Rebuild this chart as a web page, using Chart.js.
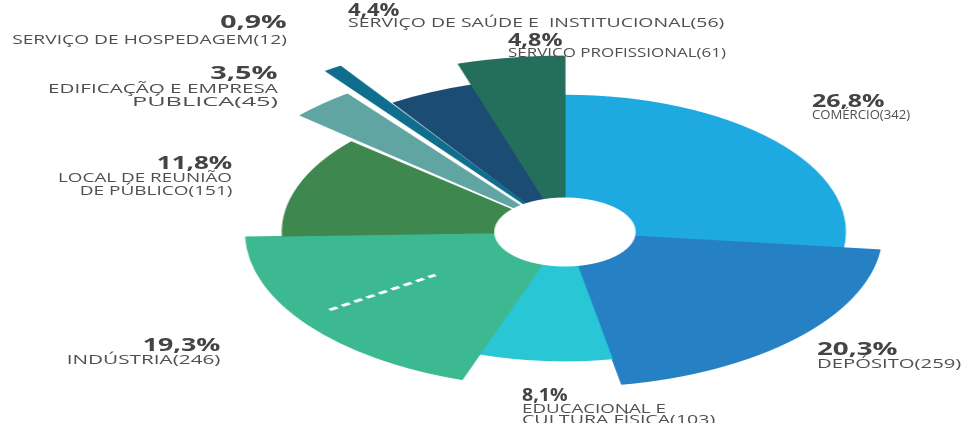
<!DOCTYPE html>
<html>
<head>
<meta charset="utf-8">
<script src="https://cdn.jsdelivr.net/npm/chart.js@4.4.1/dist/chart.umd.min.js"></script>
<style>
  html, body { margin: 0; padding: 0; background: #fff; }
  #stage { position: relative; width: 962px; height: 423px; overflow: hidden; font-family: "Open Sans", sans-serif; }
  /* the source picture is stretched sideways, so the round pie is drawn narrow and widened */
  #pieBox { position: absolute; left: 0; top: 0; width: 470px; height: 423px; transform: scaleX(2.0468); transform-origin: 0 0; }
  .ln { position: absolute; white-space: pre; line-height: 1; }
  .pct { font-size: 17px; font-weight: 700; color: #444; }
  .nm { font-size: 13px; font-weight: 500; color: #505050; }
</style>
</head>
<body>
<div id="stage">
  <div id="pieBox"><canvas id="pie"></canvas></div>
</div>
<script>
// ---- data (clockwise from 12 o'clock) ----
const categoryLines = [
  ["COMÉRCIO"],
  ["DEPÓSITO"],
  ["EDUCACIONAL E", "CULTURA FÍSICA"],
  ["INDÚSTRIA"],
  ["LOCAL DE REUNIÃO", "DE PÚBLICO"],
  ["EDIFICAÇÃO E EMPRESA", "PÚBLICA"],
  ["SERVIÇO DE HOSPEDAGEM"],
  ["SERVIÇO DE SAÚDE E  INSTITUCIONAL"],
  ["SERVIÇO PROFISSIONAL"]
];
const categories = categoryLines.map(l => l.join(" "));
const counts = [342, 259, 103, 246, 151, 45, 12, 56, 61];
const percents = [26.8, 20.3, 8.1, 19.3, 11.8, 3.5, 0.9, 4.4, 4.8];

// ---- styling ----
const sliceColors = ["#1ea9e0", "#2580c4", "#29c6d6", "#3db992", "#3e884f", "#61a5a2", "#0f6d8e", "#1b4d74", "#236f5b"];
const reach = [0.761, 0.861, 0.717, 0.867, 0.767, 0.82, 1.019, 0.856, 0.978]; // share of full radius per wedge
const pull = [0, 0, 0, 0, 0, 60, 32, 0, 0];                                    // exploded wedges

// per-slice radius, the white hole and the dashed mark in INDÚSTRIA
const sliceShape = {
  id: "sliceShape",
  beforeDatasetsDraw(chart) {
    const meta = chart.getDatasetMeta(0);
    const full = meta.controller.outerRadius;
    meta.data.forEach((arc, i) => {
      arc.outerRadius = full * reach[i];
      arc.innerRadius = 0;
    });
  },
  afterDatasetsDraw(chart) {
    const meta = chart.getDatasetMeta(0);
    const ctx = chart.ctx;
    const a0 = meta.data[0];
    ctx.save();
    ctx.beginPath();
    ctx.arc(a0.x, a0.y, meta.controller.innerRadius, 0, Math.PI * 2);
    ctx.fillStyle = "#fff";
    ctx.fill();

    const ind = meta.data[3];
    const ang = ind.startAngle + (ind.endAngle - ind.startAngle) * 0.534;
    const r1 = ind.outerRadius * 0.49, r2 = ind.outerRadius * 0.89;
    ctx.beginPath();
    ctx.setLineDash([4.5, 2.8]);
    ctx.lineWidth = 2.5;
    ctx.strokeStyle = "#fff";
    ctx.moveTo(ind.x + Math.cos(ang) * r2, ind.y + Math.sin(ang) * r2);
    ctx.lineTo(ind.x + Math.cos(ang) * r1, ind.y + Math.sin(ang) * r1);
    ctx.stroke();
    ctx.restore();
  }
};

new Chart(document.getElementById("pie"), {
  type: "doughnut",
  data: {
    labels: categories,
    datasets: [{
      data: counts,
      backgroundColor: sliceColors,
      borderColor: sliceColors,
      borderWidth: 0.6,
      offset: pull
    }]
  },
  options: {
    responsive: true,
    maintainAspectRatio: false,
    animation: false,
    devicePixelRatio: 2,
    events: [],
    radius: 180,
    cutout: "19.2%",
    layout: { padding: { left: 82, top: 41, right: 0, bottom: 0 } },
    plugins: { legend: { display: false }, tooltip: { enabled: false } }
  },
  plugins: [sliceShape]
});

// ---- outside labels: [align, edge x, percent cap top, percent width, name cap tops, name widths] ----
const labelSpots = [
  ["left", 812, 95, 72, [110], [98]],
  ["left", 817, 343, 80, [359], [145]],
  ["left", 522, 389, 46, [404, 415], [144, 193]],
  ["right", 220, 339, 77, [355], [153]],
  ["right", 232, 157, 75, [173, 186], [174, 152]],
  ["right", 278, 67, 68, [84, 97], [230, 146]],
  ["right", 287, 16, 67, [35], [275]],
  ["left", 348, 4, 52, [18], [377]],
  ["left", 508, 34, 55, [48], [218]]
];

const stage = document.getElementById("stage");
function putLine(text, cls, fs, align, x, capTop, w) {
  const el = document.createElement("span");
  el.className = "ln " + cls;
  el.textContent = text;
  stage.appendChild(el);
  el.style.top = (capTop - 0.174 * fs) + "px";
  if (align === "left") el.style.left = x + "px";
  else el.style.right = (962 - x) + "px";
  const s = w / el.offsetWidth;
  el.style.transformOrigin = align + " top";
  el.style.transform = "scaleX(" + s.toFixed(3) + ")";
}

labelSpots.forEach((spot, i) => {
  const [align, x, pTop, pW, nTops, nWs] = spot;
  putLine(percents[i].toFixed(1).replace(".", ",") + "%", "pct", 17, align, x, pTop, pW);
  const lines = categoryLines[i];
  lines.forEach((t, j) => {
    const txt = j === lines.length - 1 ? t + "(" + counts[i] + ")" : t;
    putLine(txt, "nm", 13, align, x, nTops[j], nWs[j]);
  });
});
</script>
</body>
</html>
